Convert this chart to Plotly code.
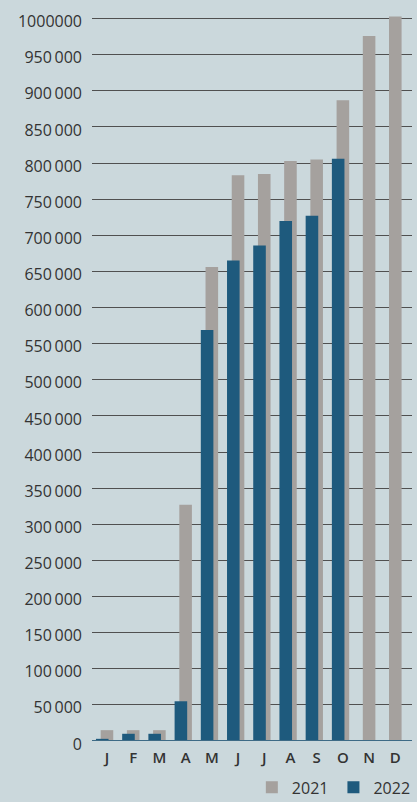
import plotly.graph_objects as go

months = ["J", "F", "M", "A", "M ", "J ", "J  ", "A ", "S", "O", "N", "D"]
month_labels = ["J", "F", "M", "A", "M", "J", "J", "A", "S", "O", "N", "D"]
values_2021 = [15000, 15000, 15000, 327000, 656000, 783000, 785000, 803000, 805000, 887000, 976000, 1003000]
values_2022 = [3000, 10000, 10000, 55000, 569000, 665000, 686000, 720000, 727000, 806000, None, None]
tick_values = list(range(0, 1000001, 50000))
tick_labels = ["0"] + [f"{v // 1000}\u2009000" for v in tick_values[1:-1]] + ["1000000"]

BG = "#cbd8dc"
GREY = "#a5a19e"
BLUE = "#1e5a7d"
TXT = "#333333"

fig = go.Figure()
fig.add_trace(go.Bar(
    x=months, y=values_2021, name="2021",
    marker=dict(color=GREY, line=dict(width=0)),
    width=0.48, offset=-0.24,
))
fig.add_trace(go.Bar(
    x=months, y=values_2022, name="2022",
    marker=dict(color=BLUE, line=dict(width=0)),
    width=0.48, offset=-0.42,
))

fig.update_layout(
    width=417, height=802,
    margin=dict(l=92, r=5, t=15, b=61, autoexpand=False),
    paper_bgcolor=BG, plot_bgcolor=BG,
    barmode="overlay",
    font=dict(family="Open Sans", size=16, color=TXT),
    showlegend=True,
    legend=dict(
        orientation="h", x=1.012, xanchor="right", y=-0.064, yanchor="middle",
        bgcolor="rgba(0,0,0,0)", font=dict(size=16, color=TXT),
        traceorder="normal", entrywidth=0,
    ),
    xaxis=dict(
        type="category", range=[-0.571, 11.637],
        tickmode="array", tickvals=months, ticktext=month_labels,
        showgrid=False, zeroline=False, showline=False, ticks="",
        ticklabelstandoff=6,
        tickfont=dict(size=15, color=TXT, weight=600),
        fixedrange=True,
    ),
    yaxis=dict(
        range=[0, 1005000],
        tickmode="array", tickvals=tick_values, ticktext=tick_labels,
        showgrid=True, gridcolor="#505050", gridwidth=1.4,
        zeroline=False, showline=False, ticks="",
        ticklabelstandoff=9, ticklabelshift=3,
        tickfont=dict(size=16, color=TXT),
        fixedrange=True,
    ),
)
fig.add_hline(y=0, line=dict(color="#3e6b86", width=2), layer="above")

fig.write_html("out.html")
